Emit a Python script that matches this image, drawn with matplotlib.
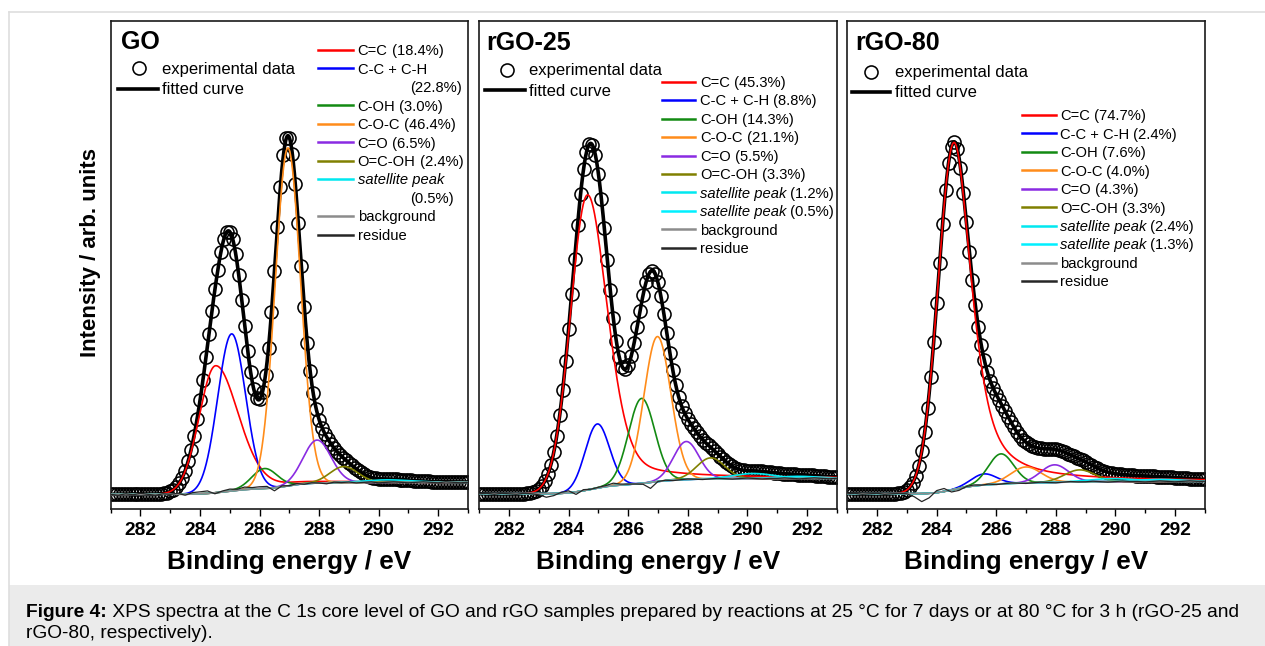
import numpy as np
import matplotlib
matplotlib.use("Agg")
import matplotlib.pyplot as plt
from matplotlib.lines import Line2D
from matplotlib.patches import Rectangle

plt.rcParams['font.family'] = ['Liberation Sans', 'DejaVu Sans']

# ---------------- data ----------------
panel_titles = ["GO", "rGO-25", "rGO-80"]
component_names = ["C=C", "C-C + C-H", "C-OH", "C-O-C", "C=O", "O=C-OH",
                    "satellite peak", "satellite peak"]
component_colors = ["#ff0000", "#0000ff", "#138a13", "#ff8c1a", "#8a2be2",
                    "#808000", "#00e8f0", "#00f0ff"]

# GO : 7 components (one satellite)
go_pct = [18.4, 22.8, 3.0, 46.4, 6.5, 2.4, 0.5]
go_center = [284.52, 285.06, 286.17, 286.95, 287.93, 288.83, 290.3]
go_height = [127, 157, 20, 338, 43, 16, 2.5]
go_hw_lo = [0.65, 0.55, 0.50, 0.50, 0.55, 0.55, 0.9]
go_hw_hi = [0.90, 0.55, 0.50, 0.50, 0.55, 0.55, 0.9]
go_tail = [0.2, 0, 0, 0, 0, 0, 0]
go_bg = [15.0, 27.0]
go_residue = [0, -1, 0.5, -0.5, 1, 0, -1, 0.5,
              0, 1, -1, 1.5, 2, 2.5, -1, 1,
              2, 1, 2.5, 1.5, 2, 2, -3, 1,
              0, 1, -0.5, 0.5, 0, -1, 0.5, 0,
              0.5, -0.5, 0, 0.5, -0.5, 0, 0.5, 0,
              -0.5, 0, 0.5, 0, -0.5, 0.5, 0, -0.5, 0]

# rGO-25 : 8 components
r25_pct = [45.3, 8.8, 14.3, 21.1, 5.5, 3.3, 1.2, 0.5]
r25_center = [284.63, 284.96, 286.45, 286.98, 287.95, 288.77, 290.2, 291.7]
r25_height = [295, 64, 85, 145, 38, 21, 5, 2]
r25_hw_lo = [0.67, 0.48, 0.52, 0.53, 0.50, 0.55, 0.8, 0.8]
r25_hw_hi = [0.80, 0.48, 0.52, 0.53, 0.50, 0.55, 0.8, 0.8]
r25_tail = [0.38, 0, 0, 0, 0, 0, 0, 0]
r25_bg = [15.5, 31.0]
r25_residue = [0, 0.5, -0.5, 0.5, 0, -0.5, 0.5, 0,
               -1, -3.5, -2, 1, 2, -2.5, 1, 0,
               0.5, 1, 2.5, 1, 0.5, 0, -1, -6,
               0, 0.5, -0.5, 0, 0.5, 0, -0.5, 0,
               0.5, 0, -0.5, 0, 0.5, 0, -0.5, 0,
               0, 0.5, 0, -0.5, 0, 0.5, 0, -0.5, 0]

# rGO-80 : 8 components
r80_pct = [74.7, 2.4, 7.6, 4.0, 4.3, 3.3, 2.4, 1.3]
r80_center = [284.58, 285.59, 286.16, 287.00, 287.96, 288.80, 289.9, 291.5]
r80_height = [347, 11, 30, 16, 17.5, 12, 3, 2]
r80_hw_lo = [0.62, 0.50, 0.50, 0.60, 0.55, 0.60, 0.9, 0.9]
r80_hw_hi = [0.70, 0.50, 0.50, 0.60, 0.55, 0.60, 0.9, 0.9]
r80_tail = [0.68, 0, 0, 0, 0, 0, 0, 0]
r80_bg = [15.5, 28.0]
r80_residue = [0, 0.5, -0.5, 0, 0.5, -0.5, 0, 0.5,
               0, -3, -8, -4.5, 2, 3, -2, -2,
               0.5, 1, 0, 0.5, -0.5, 0, 0.5, 0,
               -0.5, 0, 0.5, 0, -0.5, 0, 0.5, 0,
               0, 0.5, 0, -0.5, 0, 0.5, 0, 0,
               -0.5, 0, 0.5, 0, -0.5, 0, 0.5, 0, 0]

x_ticks = [282, 284, 286, 288, 290, 292]
x_lim = (281, 293)

# ---------------- layout (pixels) ----------------
W, H = 1265, 646
AX_TOP, AX_BOT = 20.7, 509.3
ax_lefts = [110.7, 479.3, 847.3]
AX_W = 357.3
title_pos = [(120.7, 49.3), (486.7, 50.0), (855.0, 50.0)]
top_leg = [dict(cx=139.3, cy=68.3, tx=161.7, lx1=118.3, lx2=158.3, ly=89.0),
           dict(cx=507.3, cy=70.0, tx=529.3, lx1=485.0, lx2=525.0, ly=90.0),
           dict(cx=870.7, cy=71.7, tx=895.0, lx1=851.7, lx2=890.0, ly=91.7)]
comp_leg = [dict(x1=318.3, x2=353.3, tx=357.7, y0=50.0),
            dict(x1=661.7, x2=695.0, tx=700.0, y0=81.7),
            dict(x1=1021.7, x2=1056.0, tx=1060.0, y0=115.0)]
PITCH = 18.45

panels = [
    (go_center, go_height, go_hw_lo, go_hw_hi, go_tail, go_bg, go_residue, go_pct),
    (r25_center, r25_height, r25_hw_lo, r25_hw_hi, r25_tail, r25_bg, r25_residue, r25_pct),
    (r80_center, r80_height, r80_hw_lo, r80_hw_hi, r80_tail, r80_bg, r80_residue, r80_pct),
]


def component(E, c, h, wl, wr, tail):
    w = np.where(E < c, wl, wr)
    x2 = ((E - c) / w) ** 2
    m = np.where(E < c, 0.0, tail)
    return h * ((1 - m) * np.exp(-np.log(2) * x2) + m / (1 + x2))


fig = plt.figure(figsize=(W / 100, H / 100), dpi=100)
fig.patch.set_facecolor("white")

# frame + caption box
fig.patches.append(Rectangle((9 / W, 0), 1 - 9 / W, (H - 585) / H,
                             transform=fig.transFigure, facecolor="#ebebeb",
                             edgecolor="none", zorder=0))
fig.add_artist(Line2D([9 / W, 1], [1 - 11.7 / H] * 2, transform=fig.transFigure,
                      color="#dedede", lw=1.2))
fig.add_artist(Line2D([9 / W, 9 / W], [0, 1 - 11.7 / H], transform=fig.transFigure,
                      color="#dedede", lw=1.2))


def fx(x):
    return x / W


def fy(y):
    return 1 - y / H


renderer = fig.canvas.get_renderer()

E = np.round(np.arange(281.0, 293.0001, 0.01), 4)

for k, (cen, hei, wlo, whi, tail, bg_ends, resid, pct) in enumerate(panels):
    left = ax_lefts[k]
    ax = fig.add_axes([left / W, 1 - AX_BOT / H, AX_W / W, (AX_BOT - AX_TOP) / H])
    comps = [component(E, cen[i], hei[i], wlo[i], whi[i], tail[i]) for i in range(len(cen))]
    total = np.sum(comps, axis=0)
    cum = np.cumsum(total)
    bg = bg_ends[0] + (bg_ends[1] - bg_ends[0]) * cum / cum[-1]
    fit = total + bg

    # experimental points every 0.1 eV
    ax.plot(E[::10], fit[::10], linestyle="none", marker="o", ms=9.4,
            mfc="none", mec="black", mew=1.15, zorder=2)
    ax.plot(E, fit, color="black", lw=2.6, zorder=3)
    for i, cc in enumerate(comps):
        ax.plot(E, cc + bg, color=component_colors[i], lw=1.2, zorder=4)
    ax.plot(E, bg, color="#8c8c8c", lw=1.2, zorder=4)
    ax.plot(E[::25], bg[::25] + np.array(resid), color="#262626", lw=0.9, zorder=5)

    ax.set_xlim(*x_lim)
    ax.set_ylim(0, AX_BOT - AX_TOP)
    ax.set_xticks(x_ticks)
    ax.set_xticks([281, 283, 285, 287, 289, 291, 293], minor=True)
    ax.set_yticks([])
    ax.tick_params(axis="x", which="major", direction="out", length=5.2, width=1.0,
                   pad=3.8, labelsize=13.8)
    ax.tick_params(axis="x", which="minor", direction="out", length=3, width=1.0)
    for lab in ax.get_xticklabels():
        lab.set_fontweight("bold")
    for s in ax.spines.values():
        s.set_linewidth(1.2)
        s.set_color("#1a1a1a")
    ax.set_xlabel("Binding energy / eV", fontsize=18.8, fontweight="bold")
    ax.xaxis.set_label_coords(0.5, (AX_BOT - 561.7) / (AX_BOT - AX_TOP))
    ax.xaxis.label.set_va("center")

    # title
    tx, ty = title_pos[k]
    fig.text(fx(tx), fy(ty), panel_titles[k], fontsize=18, fontweight="bold",
             ha="left", va="baseline")

    # top legend
    tl = top_leg[k]
    fig.add_artist(Line2D([fx(tl["cx"])], [fy(tl["cy"])], transform=fig.transFigure,
                          marker="o", ms=9.4, mfc="none", mec="black", mew=1.15,
                          linestyle="none"))
    fig.text(fx(tl["tx"]), fy(tl["cy"] + 5.5), "experimental data", fontsize=12,
             ha="left", va="baseline")
    fig.add_artist(Line2D([fx(tl["lx1"]), fx(tl["lx2"])], [fy(tl["ly"])] * 2,
                          transform=fig.transFigure, color="black", lw=2.6))
    fig.text(fx(tl["tx"]), fy(tl["ly"] + 5.5), "fitted curve", fontsize=12,
             ha="left", va="baseline")

    # component legend
    cl = comp_leg[k]
    rows = []
    for i in range(len(pct)):
        name = component_names[i]
        p = f"({pct[i]:.1f}%)"
        italic = name.startswith("satellite")
        if k == 0 and i == 1:
            rows.append((name, "", component_colors[i], False))
            rows.append(("cont", p, None, False))
        elif k == 0 and italic:
            rows.append((name, "", component_colors[i], True))
            rows.append(("cont", p, None, False))
        else:
            rows.append((name, " " + p, component_colors[i], italic))
    rows.append(("background", "", "#8c8c8c", False))
    rows.append(("residue", "", "#262626", False))
    y = cl["y0"]
    for name, p, col, italic in rows:
        base = fy(y + 5.3)
        if name == "cont":
            fig.text(fx(cl["tx"] + 52), base, p, fontsize=10.6, ha="left", va="baseline")
        else:
            fig.add_artist(Line2D([fx(cl["x1"]), fx(cl["x2"])], [fy(y)] * 2,
                                  transform=fig.transFigure, color=col, lw=1.8))
            t = fig.text(fx(cl["tx"]), base, name, fontsize=10.6, ha="left",
                         va="baseline", style="italic" if italic else "normal")
            if p:
                bb = t.get_window_extent(renderer)
                fig.text(bb.x1 / W, base, p, fontsize=10.6, ha="left", va="baseline")
        y += PITCH

# y label
fig.text(fx(90.5), fy(252.5), "Intensity / arb. units", fontsize=16, fontweight="bold",
         rotation=90, ha="center", va="center")

# caption
CAP_FS = 13.75
t1 = fig.text(fx(26), fy(617), "Figure 4:", fontsize=CAP_FS, fontweight="bold",
              ha="left", va="baseline")
bb = t1.get_window_extent(renderer)
fig.text(bb.x1 / W, fy(617),
         " XPS spectra at the C 1s core level of GO and rGO samples prepared by reactions "
         "at 25 \u00b0C for 7 days or at 80 \u00b0C for 3 h (rGO-25 and",
         fontsize=CAP_FS, ha="left", va="baseline")
fig.text(fx(26), fy(638), "rGO-80, respectively).", fontsize=CAP_FS, ha="left",
         va="baseline")

fig.savefig("out.png", dpi=100)
